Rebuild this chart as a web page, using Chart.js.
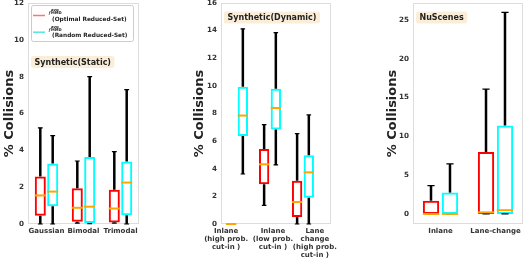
<!DOCTYPE html>
<html>
<head>
<meta charset="utf-8">
<script src="https://cdn.jsdelivr.net/npm/chart.js@4.4.1/dist/chart.umd.min.js"></script>
<style>
  html, body { margin: 0; padding: 0; background: #fff; }
  body { width: 524px; height: 259px; position: relative; overflow: hidden; }
  canvas { position: absolute; top: 0; }
</style>
</head>
<body>
<canvas id="c1" width="145" height="259" style="left:0px"></canvas>
<canvas id="c2" width="156" height="259" style="left:186px"></canvas>
<canvas id="c3" width="149" height="259" style="left:375px"></canvas>
<script>
// ---- Synthetic(Static) ----
const staticCats = ['Gaussian', 'Bimodal', 'Trimodal'];
const staticOptMin = [0, 0.05, 0.05];
const staticOptQ1 = [0.45, 0.12, 0.08];
const staticOptMed = [1.55, 0.88, 0.84];
const staticOptQ3 = [2.58, 1.94, 1.86];
const staticOptMax = [5.22, 3.42, 3.93];
const staticRndMin = [0, 0.02, 0];
const staticRndQ1 = [0.97, 0.05, 0.47];
const staticRndMed = [1.76, 0.94, 2.25];
const staticRndQ3 = [3.28, 3.64, 3.39];
const staticRndMax = [4.8, 8.0, 7.3];
const staticTicks = [0, 2, 4, 6, 8, 10, 12];

// ---- Synthetic(Dynamic) ----
const dynCats = [
  ['Inlane', '(high prob.', 'cut-in )'],
  ['Inlane', '(low prob.', 'cut-in )'],
  ['Lane', 'change', '(high prob.', 'cut-in )']
];
const dynPos = [1, 2, 3];
const dynLabelPos = [0.67, 2.09, 3.36];
const dynOptMin = [0, 1.35, 0];
const dynOptQ1 = [0, 2.87, 0.5];
const dynOptMed = [0, 4.32, 1.59];
const dynOptQ3 = [0, 5.43, 3.14];
const dynOptMax = [0, 7.2, 6.55];
const dynRndMin = [3.62, 4.28, 0];
const dynRndQ1 = [6.38, 6.84, 1.9];
const dynRndMed = [7.85, 8.4, 3.74];
const dynRndQ3 = [9.93, 9.8, 4.98];
const dynRndMax = [14.13, 13.86, 7.9];
const dynTicks = [0, 2, 4, 6, 8, 10, 12, 14, 16];

// ---- NuScenes ----
const nuCats = ['Inlane', 'Lane-change'];
const nuOptMin = [0, 0];
const nuOptQ1 = [0, 0];
const nuOptMed = [0, 0.2];
const nuOptQ3 = [1.7, 7.98];
const nuOptMax = [3.65, 16.1];
const nuRndMin = [0, 0];
const nuRndQ1 = [0, 0];
const nuRndMed = [0, 0.48];
const nuRndQ3 = [2.75, 11.4];
const nuRndMax = [6.45, 26];
const nuTicks = [0, 5, 10, 15, 20, 25];

const RED = '#ff0000';
const CYAN = '#00ffff';
const legendRows = [
  { color: 'rgba(255,0,0,0.55)', label: '(Optimal Reduced-Set)' },
  { color: 'rgba(0,210,210,0.65)', label: '(Random Reduced-Set)' }
];

Chart.defaults.font.family = 'DejaVu Sans';
Chart.defaults.animation = false;

function boxSet(color, lo, q1, med, q3, hi, pos) {
  return {
    data: q1.map((v, i) => pos ? { x: pos[i], y: [v, q3[i]] } : [v, q3[i]]),
    borderColor: color,
    backgroundColor: 'rgba(0,0,0,0)',
    borderWidth: 2,
    borderSkipped: false,
    lo, q1, med, q3, hi
  };
}

// whiskers, caps and medians on top of the floating bars
const boxParts = {
  id: 'boxParts',
  afterDatasetsDraw(chart) {
    const ctx = chart.ctx;
    const y = chart.scales.y;
    const py = v => y.getPixelForValue(v);
    chart.data.datasets.forEach((ds, di) => {
      chart.getDatasetMeta(di).data.forEach((bar, i) => {
        const x = bar.x, w = bar.width;
        ctx.save();
        ctx.strokeStyle = '#000';
        ctx.lineWidth = 2.5;
        ctx.beginPath();
        ctx.moveTo(x, py(ds.q3[i])); ctx.lineTo(x, py(ds.hi[i]));
        ctx.moveTo(x, py(ds.q1[i])); ctx.lineTo(x, py(ds.lo[i]));
        ctx.stroke();
        const c = w * 0.22;
        ctx.lineWidth = 1.2;
        ctx.beginPath();
        ctx.moveTo(x - c, py(ds.hi[i])); ctx.lineTo(x + c, py(ds.hi[i]));
        ctx.moveTo(x - c, py(ds.lo[i])); ctx.lineTo(x + c, py(ds.lo[i]));
        ctx.stroke();
        ctx.strokeStyle = '#ffa500';
        ctx.lineWidth = 2;
        ctx.beginPath();
        ctx.moveTo(x - w / 2, py(ds.med[i])); ctx.lineTo(x + w / 2, py(ds.med[i]));
        ctx.stroke();
        ctx.restore();
      });
    });
  }
};

const frame = {
  id: 'frame',
  beforeDatasetsDraw(chart) {
    const a = chart.chartArea, ctx = chart.ctx;
    ctx.save();
    ctx.strokeStyle = '#dddddd';
    ctx.lineWidth = 1;
    ctx.strokeRect(a.left + 0.5, a.top + 0.5, a.width - 1, a.height - 1);
    ctx.restore();
  }
};

function roundBox(ctx, x, y, w, h, r) {
  ctx.beginPath();
  ctx.moveTo(x + r, y);
  ctx.arcTo(x + w, y, x + w, y + h, r);
  ctx.arcTo(x + w, y + h, x, y + h, r);
  ctx.arcTo(x, y + h, x, y, r);
  ctx.arcTo(x, y, x + w, y, r);
  ctx.closePath();
}

const tag = {
  id: 'tag',
  afterDraw(chart, args, opts) {
    if (!opts.text) return;
    const a = chart.chartArea, ctx = chart.ctx;
    ctx.save();
    ctx.font = 'bold 8px DejaVu Sans';
    const tw = ctx.measureText(opts.text).width;
    const x = a.left + opts.fx * a.width;
    const cy = a.top + opts.fy * a.height;
    ctx.fillStyle = '#faeed9';
    roundBox(ctx, x, cy - 6, tw + 7, 12, 2.5);
    ctx.fill();
    ctx.fillStyle = '#222';
    ctx.textBaseline = 'middle';
    ctx.fillText(opts.text, x + 3.5, cy + 0.5);
    ctx.restore();
  }
};

const keyBox = {
  id: 'keyBox',
  afterDraw(chart) {
    const a = chart.chartArea, ctx = chart.ctx;
    const x0 = a.left + 3;
    ctx.save();
    roundBox(ctx, x0 + 0.5, 5.5, 102, 36, 2);
    ctx.fillStyle = '#fff';
    ctx.fill();
    ctx.strokeStyle = '#cccccc';
    ctx.lineWidth = 1;
    ctx.stroke();
    legendRows.forEach((row, k) => {
      const y0 = 15.5 + k * 16.7;
      ctx.strokeStyle = row.color;
      ctx.lineWidth = 1.5;
      ctx.beginPath();
      ctx.moveTo(x0 + 2, y0); ctx.lineTo(x0 + 14, y0);
      ctx.stroke();
      ctx.fillStyle = '#222';
      ctx.textBaseline = 'alphabetic';
      ctx.font = 'italic 6.5px DejaVu Sans';
      ctx.fillText('r', x0 + 17.5, y0 - 0.5);
      ctx.font = 'bold 3.8px DejaVu Sans';
      ctx.fillText('avg', x0 + 20, y0 - 4.5);
      ctx.fillText('MMD', x0 + 20, y0 - 1.3);
      ctx.font = 'bold 5.8px DejaVu Sans';
      ctx.fillText(row.label, x0 + 21, y0 + 5);
    });
    ctx.restore();
  }
};

function yAxis(min, max, ticks, width, titlePad) {
  return {
    min, max,
    afterBuildTicks: s => { s.ticks = ticks.map(v => ({ value: v })); },
    afterFit: s => { s.width = width; s.paddingTop = 0; s.paddingBottom = 0; },
    grid: { display: false, drawTicks: false },
    border: { display: false },
    ticks: { font: { size: 7.2, weight: 'bold' }, color: '#333', padding: 4 },
    title: {
      display: true, text: '% Collisions', color: '#222',
      font: { size: 13, weight: 'bold' }, padding: { top: titlePad, bottom: 0 }
    }
  };
}

function xAxisBase() {
  return {
    grid: { display: false, drawTicks: false },
    border: { display: false },
    afterFit: s => { s.height = 35; s.paddingLeft = 0; s.paddingRight = 0; },
    ticks: {
      font: { size: 7, weight: 'bold', lineHeight: 8 / 7 }, color: '#333',
      padding: 3, maxRotation: 0, minRotation: 0, autoSkip: false
    }
  };
}

function opts(x, y, padRight, tagOpts, cat, bar) {
  return {
    responsive: false,
    animation: false,
    layout: { padding: { left: 0, right: padRight, top: 3, bottom: 0 } },
    categoryPercentage: cat,
    barPercentage: bar,
    scales: { x, y },
    plugins: { legend: { display: false }, tooltip: { enabled: false }, tag: tagOpts }
  };
}

// Panel 1
new Chart(document.getElementById('c1'), {
  type: 'bar',
  data: {
    labels: staticCats,
    datasets: [
      boxSet(RED, staticOptMin, staticOptQ1, staticOptMed, staticOptQ3, staticOptMax),
      boxSet(CYAN, staticRndMin, staticRndQ1, staticRndMed, staticRndQ3, staticRndMax)
    ]
  },
  options: opts(xAxisBase(), yAxis(0, 12, staticTicks, 28, 1.7), 6,
    { text: 'Synthetic(Static)', fx: 0.027, fy: 0.267 }, 0.67, 0.89),
  plugins: [frame, boxParts, tag, keyBox]
});

// Panel 2 (linear x so the boxes and tick labels sit where the original has them)
const x2 = xAxisBase();
x2.type = 'linear';
x2.offset = false;
x2.grid.offset = false;
x2.min = 0.515;
x2.max = 3.85;
x2.afterBuildTicks = s => { s.ticks = dynLabelPos.map(v => ({ value: v })); };
x2.ticks.callback = (v, i) => dynCats[i];
new Chart(document.getElementById('c2'), {
  type: 'bar',
  data: {
    datasets: [
      boxSet(RED, dynOptMin, dynOptQ1, dynOptMed, dynOptQ3, dynOptMax, dynPos),
      boxSet(CYAN, dynRndMin, dynRndQ1, dynRndMed, dynRndQ3, dynRndMax, dynPos)
    ]
  },
  options: opts(x2, yAxis(0, 16, dynTicks, 35, 6.2), 11,
    { text: 'Synthetic(Dynamic)', fx: 0.027, fy: 0.066 }, 0.71, 0.88),
  plugins: [frame, boxParts, tag]
});

// Panel 3
new Chart(document.getElementById('c3'), {
  type: 'bar',
  data: {
    labels: nuCats,
    datasets: [
      boxSet(RED, nuOptMin, nuOptQ1, nuOptMed, nuOptQ3, nuOptMax),
      boxSet(CYAN, nuRndMin, nuRndQ1, nuRndMed, nuRndQ3, nuRndMax)
    ]
  },
  options: opts(xAxisBase(), yAxis(-1.3, 27.2, nuTicks, 38, 10.2), 1,
    { text: 'NuScenes', fx: 0.027, fy: 0.066 }, 0.69, 0.86),
  plugins: [frame, boxParts, tag]
});
</script>
</body>
</html>
